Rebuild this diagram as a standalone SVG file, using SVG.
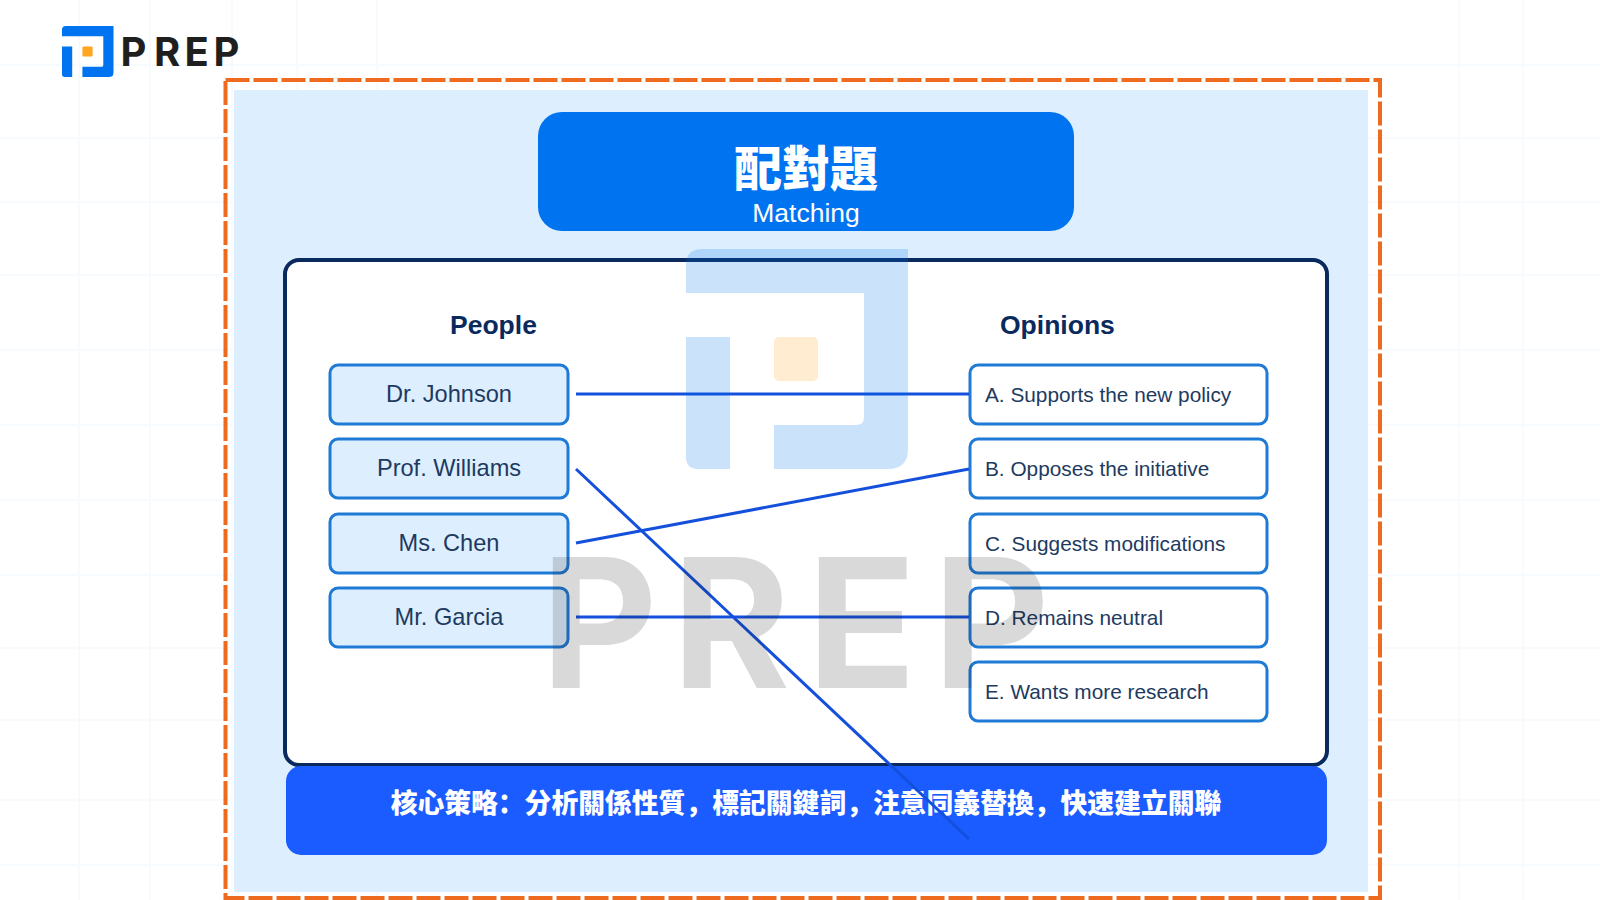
<svg xmlns="http://www.w3.org/2000/svg" width="1600" height="900" viewBox="0 0 1600 900">
<style>
text{font-family:"Liberation Sans",Arial,sans-serif}
.cjk{font-family:"Noto Sans CJK SC","Noto Sans CJK TC",sans-serif;font-weight:900;fill:#fff;text-anchor:middle}
.box{stroke:#1f7ad6;stroke-width:3}
.p{fill:#ddeeff}.o{fill:#fff}
.pt{font-size:23.6px;fill:#1d3a5f;text-anchor:middle}
.ot{font-size:20.8px;fill:#1d3a5f}
.h{font-size:26.5px;font-weight:700;fill:#0a2a5e}
.c{stroke:#1450dc;stroke-width:3;fill:none}
.grid{stroke:#f8fbfd;stroke-width:2;fill:none}
.brand{font-family:Inter,"Liberation Sans",sans-serif;font-weight:700}
</style>
<defs>
<g id="mark">
<path d="M0 44V16Q0 0 16 0H222V200Q222 220 202 220H88V176H170Q178 176 178 168V44Z" fill="#0074f0"/>
<path d="M0 88H44V220H12Q0 220 0 208Z" fill="#0074f0"/>
<rect x="88" y="88" width="44" height="44" rx="5" fill="#ffa51f"/>
</g>
</defs>
<rect width="1600" height="900" fill="#fff"/>
<path class="grid" d="M79 0V900M150 0V900M232 0V900M297 0V900M377 0V900M1459 0V900M1523 0V900M0 65H1600M0 138H1600M0 202H1600M0 275H1600M0 350H1600M0 425H1600M0 500H1600M0 575H1600M0 648H1600M0 720H1600M0 800H1600M0 865H1600"/>
<g id="logo">
<use href="#mark" transform="translate(62 26) scale(.232)"/>
<text class="brand" x="120.500 154 184.500 213.500" y="66" font-size="40" fill="#1f1f1f">PREP</text>
</g>
<rect id="panel" x="234" y="90" width="1134" height="802" fill="#ddeefe"/>
<rect id="frame" x="225.500" y="80" width="1154.500" height="818" fill="none" stroke="#ee6a1f" stroke-width="4" stroke-dasharray="24 4"/>
<g id="title">
<rect x="538" y="112" width="536" height="119" rx="24" fill="#0074f0"/>
<text class="cjk" x="806" y="186" font-size="48">配對題</text>
<text x="806" y="222" font-size="26.500" fill="#fff" text-anchor="middle">Matching</text>
</g>
<rect id="board" x="285" y="260" width="1042" height="505" rx="14" fill="#fff" stroke="#0a2a5e" stroke-width="4"/>
<text class="h" x="450" y="334">People</text>
<text class="h" x="1000" y="334">Opinions</text>
<g id="person-johnson"><rect class="box p" x="330" y="365" width="238" height="59" rx="8"/><text class="pt" x="449" y="402">Dr. Johnson</text></g>
<g id="person-williams"><rect class="box p" x="330" y="439" width="238" height="59" rx="8"/><text class="pt" x="449" y="476">Prof. Williams</text></g>
<g id="person-chen"><rect class="box p" x="330" y="514" width="238" height="59" rx="8"/><text class="pt" x="449" y="551">Ms. Chen</text></g>
<g id="person-garcia"><rect class="box p" x="330" y="588" width="238" height="59" rx="8"/><text class="pt" x="449" y="625">Mr. Garcia</text></g>
<g id="opinion-a"><rect class="box o" x="970" y="365" width="297" height="59" rx="8"/><text class="ot" x="985" y="402">A. Supports the new policy</text></g>
<g id="opinion-b"><rect class="box o" x="970" y="439" width="297" height="59" rx="8"/><text class="ot" x="985" y="476">B. Opposes the initiative</text></g>
<g id="opinion-c"><rect class="box o" x="970" y="514" width="297" height="59" rx="8"/><text class="ot" x="985" y="551">C. Suggests modifications</text></g>
<g id="opinion-d"><rect class="box o" x="970" y="588" width="297" height="59" rx="8"/><text class="ot" x="985" y="625">D. Remains neutral</text></g>
<g id="opinion-e"><rect class="box o" x="970" y="662" width="297" height="59" rx="8"/><text class="ot" x="985" y="699">E. Wants more research</text></g>
<g id="strategy">
<rect x="286" y="766" width="1041" height="89" rx="15" fill="#1a5cff"/>
<text class="cjk" x="806" y="813" font-size="26.800">核心策略：分析關係性質，標記關鍵詞，注意同義替換，快速建立關聯</text>
</g>
<g id="connectors">
<line class="c" x1="576" y1="394" x2="969" y2="394"/>
<line class="c" x1="576" y1="469" x2="969" y2="839"/>
<line class="c" x1="576" y1="543" x2="969" y2="469"/>
<line class="c" x1="576" y1="617" x2="969" y2="617"/>
</g>
<g id="watermark" opacity=".2">
<use href="#mark" transform="translate(686 249)"/>
</g>
<text id="watermark-text" class="brand" x="541 672 807 933" y="688" font-size="180" fill="#1a1a1a" opacity=".16">PREP</text>
</svg>
